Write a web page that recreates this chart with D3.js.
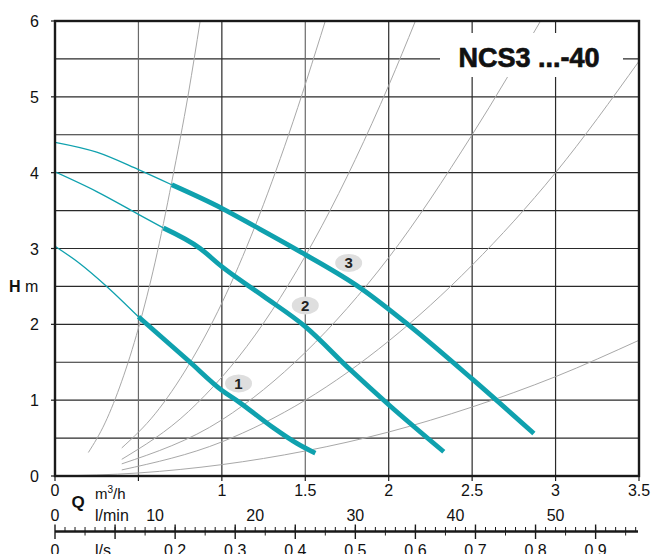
<!DOCTYPE html>
<html>
<head>
<meta charset="utf-8">
<script src="https://cdn.jsdelivr.net/npm/d3@7"></script>
<style>
  body { margin: 0; background: #fff; }
  text { font-family: "Liberation Sans", Arial, Helvetica, sans-serif; }
</style>
</head>
<body>
<svg id="chart" width="654" height="554"></svg>
<script>
// tick values
const qTicks = [0, 0.5, 1, 1.5, 2, 2.5, 3, 3.5];
const qLabels = [0, 1, 1.5, 2, 2.5, 3, 3.5];
const hTicks = [0, 0.5, 1, 1.5, 2, 2.5, 3, 3.5, 4, 4.5, 5, 5.5, 6];
const hLabels = [0, 1, 2, 3, 4, 5, 6];
const lminLabels = [10, 20, 30, 40, 50];
const lsLabels = [0.2, 0.3, 0.4, 0.5, 0.6, 0.7, 0.8, 0.9];

// pump curves [Q m3/h, H m] - thin start part and thick working part
const curve1Thin = [[0, 3.03], [0.15, 2.8], [0.3, 2.52], [0.5, 2.1]];
const curve1Thick = [[0.5, 2.1], [0.8, 1.52], [1.0, 1.13], [1.1, 0.98], [1.3, 0.65], [1.45, 0.43], [1.56, 0.3]];
const curve2Thin = [[0, 4.01], [0.25, 3.75], [0.5, 3.45], [0.65, 3.27]];
const curve2Thick = [[0.65, 3.27], [0.87, 3.0], [1.0, 2.76], [1.25, 2.37], [1.5, 1.97], [1.77, 1.4], [2.0, 0.94], [2.33, 0.32]];
const curve3Thin = [[0, 4.4], [0.25, 4.27], [0.5, 4.04], [0.7, 3.84]];
const curve3Thick = [[0.7, 3.84], [1.0, 3.53], [1.2, 3.29], [1.5, 2.92], [1.83, 2.48], [2.12, 1.99], [2.5, 1.28], [2.87, 0.56]];
const curveLabels = [["1", 1.1, 1.22], ["2", 1.5, 2.25], ["3", 1.76, 2.81]];

// system curves (grey)
const sysA = [[0.2, 0.31], [0.3, 0.7], [0.4, 1.25], [0.5, 1.95], [0.6, 2.82], [0.7, 3.88], [0.8, 5.05], [0.87, 6]];
const sysB = [[0.4, 0.37], [0.6, 0.82], [0.8, 1.46], [1.0, 2.28], [1.2, 3.3], [1.4, 4.5], [1.62, 6]];
const sysC = [[0.4, 0.22], [0.8, 0.85], [1.2, 1.86], [1.6, 3.3], [2.0, 5.15], [2.16, 6]];
const sysD = [[0.4, 0.16], [1.0, 0.74], [1.5, 1.63], [2.0, 2.88], [2.5, 4.5], [2.91, 6]];
const sysE = [[0.4, 0.08], [1.0, 0.45], [1.5, 1.0], [2.0, 1.78], [2.5, 2.78], [3.0, 4.0], [3.5, 5.47]];
const sysF = [[0, 0], [0.5, 0.04], [1.0, 0.15], [1.5, 0.33], [2.0, 0.58], [2.5, 0.91], [3.0, 1.31], [3.5, 1.79]];

const teal = "#0fa1ae";
const svg = d3.select("#chart");

const x = d3.scaleLinear().domain([0, 3.5]).range([55, 639]);
const y = d3.scaleLinear().domain([0, 6]).range([476, 21]);
// l/min and l/s expressed on the same pixel axis
const xLmin = d3.scaleLinear().domain([0, 3.5 * 1000 / 60]).range([55, 639]);
const xLs = d3.scaleLinear().domain([0, 3.5 / 3.6]).range([55, 639]);

svg.append("clipPath").attr("id", "plotclip")
    .append("rect")
    .attr("x", x(0)).attr("y", y(6))
    .attr("width", x(3.5) - x(0)).attr("height", y(0) - y(6));

// grid
const grid = svg.append("g");
grid.selectAll(".hgrid")
    .data(hTicks.slice(1, -1))
    .enter().append("line")
    .attr("x1", x(0)).attr("x2", x(3.5))
    .attr("y1", d => y(d)).attr("y2", d => y(d))
    .attr("stroke", "#2a2a2a")
    .attr("stroke-width", 1.2);
grid.selectAll(".vgrid")
    .data(qTicks.slice(1, -1))
    .enter().append("line")
    .attr("x1", d => x(d)).attr("x2", d => x(d))
    .attr("y1", y(0)).attr("y2", y(6))
    .attr("stroke", d => (d === 0.5 || d === 1.5) ? "#6a6a6a" : "#2a2a2a")
    .attr("stroke-width", 1.2);

// system curves
const line = d3.line().x(d => x(d[0])).y(d => y(d[1])).curve(d3.curveMonotoneX);
svg.append("g").attr("clip-path", "url(#plotclip)")
    .selectAll("path")
    .data([sysA, sysB, sysC, sysD, sysE, sysF])
    .enter().append("path")
    .attr("d", line)
    .attr("fill", "none")
    .attr("stroke", "#a8a8a8")
    .attr("stroke-width", 1);

// title box
svg.append("rect")
    .attr("x", 440).attr("y", 33)
    .attr("width", 183).attr("height", 44)
    .attr("fill", "#fff");
svg.append("text")
    .attr("x", 529).attr("y", 67)
    .attr("text-anchor", "middle")
    .attr("font-size", 27)
    .attr("font-weight", "bold")
    .attr("fill", "#111")
    .attr("stroke", "#111")
    .attr("stroke-width", 0.7)
    .text("NCS3 ...-40");

// pump curves
const pumps = svg.append("g").attr("clip-path", "url(#plotclip)");
pumps.selectAll(".thin")
    .data([curve1Thin, curve2Thin, curve3Thin])
    .enter().append("path")
    .attr("d", line)
    .attr("fill", "none")
    .attr("stroke", teal)
    .attr("stroke-width", 1.3);
pumps.selectAll(".thick")
    .data([curve1Thick, curve2Thick, curve3Thick])
    .enter().append("path")
    .attr("d", line)
    .attr("fill", "none")
    .attr("stroke", teal)
    .attr("stroke-width", 4.8);

// speed badges
const badges = svg.selectAll(".badge")
    .data(curveLabels)
    .enter().append("g")
    .attr("transform", d => `translate(${x(d[1])},${y(d[2])})`);
badges.append("ellipse")
    .attr("rx", 13.5).attr("ry", 9)
    .attr("fill", "#dedede");
badges.append("text")
    .attr("y", 5.5)
    .attr("text-anchor", "middle")
    .attr("font-size", 15)
    .attr("font-weight", "bold")
    .attr("fill", "#222")
    .text(d => d[0]);

// frame
svg.append("rect")
    .attr("x", x(0)).attr("y", y(6))
    .attr("width", x(3.5) - x(0)).attr("height", y(0) - y(6))
    .attr("fill", "none")
    .attr("stroke", "#1a1a1a")
    .attr("stroke-width", 2.4);

// H axis
svg.selectAll(".hlab")
    .data(hLabels)
    .enter().append("text")
    .attr("x", 39).attr("y", d => y(d) + 6)
    .attr("text-anchor", "end")
    .attr("font-size", 16)
    .attr("fill", "#111")
    .text(d => d);
svg.selectAll(".htick")
    .data(hLabels)
    .enter().append("line")
    .attr("x1", 51).attr("x2", x(0))
    .attr("y1", d => y(d)).attr("y2", d => y(d))
    .attr("stroke", "#1a1a1a").attr("stroke-width", 1.2);
const hTitle = svg.append("text").attr("x", 9).attr("y", 292).attr("font-size", 16).attr("fill", "#111");
hTitle.append("tspan").attr("font-weight", "bold").text("H");
hTitle.append("tspan").text(" m");

// Q axis in m3/h
svg.selectAll(".qtick")
    .data(qTicks)
    .enter().append("line")
    .attr("x1", d => x(d)).attr("x2", d => x(d))
    .attr("y1", y(0)).attr("y2", y(0) + 5)
    .attr("stroke", "#1a1a1a").attr("stroke-width", 1.2);
svg.selectAll(".qlab")
    .data(qLabels)
    .enter().append("text")
    .attr("x", d => x(d)).attr("y", 496)
    .attr("text-anchor", "middle")
    .attr("font-size", 16)
    .attr("fill", "#111")
    .text(d => d);
svg.append("text").attr("x", 78).attr("y", 508)
    .attr("text-anchor", "middle")
    .attr("font-size", 17).attr("font-weight", "bold")
    .attr("fill", "#111").text("Q");
const unitM3 = svg.append("text").attr("x", 95).attr("y", 499).attr("font-size", 15).attr("fill", "#111");
unitM3.append("tspan").text("m");
unitM3.append("tspan").attr("font-size", 10).attr("dy", -6).text("3");
unitM3.append("tspan").attr("dy", 6).text("/h");

// l/min row
svg.append("text").attr("x", 55).attr("y", 521).attr("text-anchor", "middle")
    .attr("font-size", 16).attr("fill", "#111").text("0");
svg.append("text").attr("x", 95).attr("y", 521)
    .attr("font-size", 16).attr("fill", "#111").text("l/min");
svg.selectAll(".lminlab")
    .data(lminLabels)
    .enter().append("text")
    .attr("x", d => xLmin(d)).attr("y", 521)
    .attr("text-anchor", "middle")
    .attr("font-size", 16)
    .attr("fill", "#111")
    .text(d => d);

// ruler
const rulerY = 531.5;
const ruler = svg.append("g");
ruler.append("line")
    .attr("x1", 55).attr("x2", 638)
    .attr("y1", rulerY).attr("y2", rulerY)
    .attr("stroke", "#1a1a1a").attr("stroke-width", 2.4);
ruler.selectAll(".lminTick")
    .data(d3.range(1, 59))
    .enter().append("line")
    .attr("x1", d => xLmin(d)).attr("x2", d => xLmin(d))
    .attr("y1", rulerY - 4.5).attr("y2", rulerY)
    .attr("stroke", "#1a1a1a").attr("stroke-width", 1);
ruler.selectAll(".lsTick")
    .data(d3.range(0.05, 0.97, 0.1))
    .enter().append("line")
    .attr("x1", d => xLs(d)).attr("x2", d => xLs(d))
    .attr("y1", rulerY).attr("y2", rulerY + 4)
    .attr("stroke", "#1a1a1a").attr("stroke-width", 1);
ruler.selectAll(".lsMajor")
    .data(d3.range(0, 0.95, 0.1))
    .enter().append("line")
    .attr("x1", d => xLs(d)).attr("x2", d => xLs(d))
    .attr("y1", rulerY - 7).attr("y2", rulerY + 7.5)
    .attr("stroke", "#1a1a1a").attr("stroke-width", 1.4);

// l/s row (cut by the bottom edge, as in the original)
svg.append("text").attr("x", 55).attr("y", 556).attr("text-anchor", "middle")
    .attr("font-size", 16).attr("fill", "#111").text("0");
svg.append("text").attr("x", 95).attr("y", 556)
    .attr("font-size", 16).attr("fill", "#111").text("l/s");
svg.selectAll(".lslab")
    .data(lsLabels)
    .enter().append("text")
    .attr("x", d => xLs(d)).attr("y", 556)
    .attr("text-anchor", "middle")
    .attr("font-size", 16)
    .attr("fill", "#111")
    .text(d => d);
</script>
</body>
</html>
